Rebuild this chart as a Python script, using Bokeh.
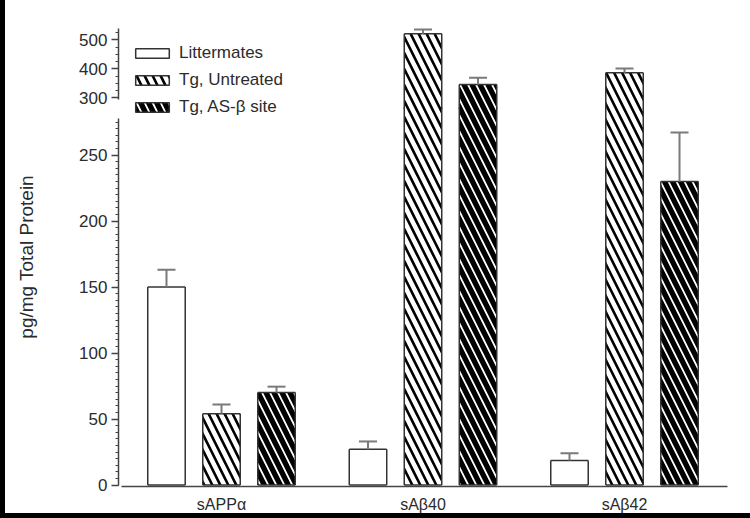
from bokeh.plotting import figure
from bokeh.layouts import column, row
from bokeh.models import (ColumnDataSource, CDSView, BooleanFilter, Legend, LegendItem,
                          SingleIntervalTicker, FixedTicker, Range1d, Div, LinearAxis)
from bokeh.transform import dodge
from bokeh.embed import file_html
from bokeh.resources import INLINE

# ---- data ----
groups = ["sAPPα", "sAβ40", "sAβ42"]
series = ["Littermates", "Tg, Untreated", "Tg, AS-β site"]
littermates = [150, 27, 18.5]
tg_untreated = [54, 521, 387]
tg_as_site = [70, 346, 230]
littermates_err = [13, 6, 5.5]
tg_untreated_err = [7, 14, 14]
tg_as_site_err = [4.5, 24, 37]
lower_tick_step = 50
upper_tick_step = 100
y_title = "pg/mg Total Protein"

# ---- layout constants (broken y axis) ----
FONT = "Liberation Sans"
TXT = "#2b2b2b"
AX = "#444444"
EDGE = "#333333"
ERR = "#7a7a7a"
LOWER_RANGE = (-21.59, 351.9)      # lower segment scale over the whole frame
UPPER_RANGE = (-1127.8, 566.3)     # upper segment scale over the whole frame
LOWER_AXIS_BOUNDS = (0, 277.6)
UPPER_AXIS_BOUNDS = (294.8, 538.8)
BREAK_LO = 286.0                   # where the lower segment of a bar stops
BREAK_HI = 262.0                   # where the upper segment of a bar starts
AXIS_X = -0.5112                   # x position of the y axes
AXIS_Y = -1.136                    # y position of the category axis
offsets = [-0.273, 0.0, 0.273]
BAR_W = 0.186

xr = Range1d(-0.8486, 2.526)

p = figure(width=705, height=513, x_range=xr, y_range=Range1d(*LOWER_RANGE),
           output_backend="svg", toolbar_location=None, y_axis_location=None,
           min_border_left=5, min_border_right=20,
           min_border_top=20, min_border_bottom=0)
p.extra_y_ranges = {"upper": Range1d(*UPPER_RANGE)}
p.outline_line_color = None
p.xgrid.visible = False
p.ygrid.visible = False
p.background_fill_color = "white"
p.border_fill_color = "white"

def make_yaxis(range_name, step, minor, bounds):
    ax = LinearAxis(y_range_name=range_name, fixed_location=AXIS_X)
    ax.ticker = SingleIntervalTicker(interval=step, num_minor_ticks=minor)
    ax.bounds = bounds
    ax.axis_line_color = AX
    ax.axis_line_width = 1.5
    ax.major_tick_line_color = AX
    ax.major_tick_line_width = 1.5
    ax.minor_tick_line_color = AX
    ax.minor_tick_line_width = 1.2
    ax.major_tick_out = 7
    ax.major_tick_in = 0
    ax.minor_tick_out = 3
    ax.minor_tick_in = 0
    ax.major_label_standoff = 4
    ax.major_label_text_font = FONT
    ax.major_label_text_font_size = "17px"
    ax.major_label_text_color = TXT
    p.add_layout(ax, "left")

make_yaxis("default", lower_tick_step, 10, LOWER_AXIS_BOUNDS)
make_yaxis("upper", upper_tick_step, 4, UPPER_AXIS_BOUNDS)

xa = p.xaxis[0]
xa.fixed_location = AXIS_Y
xa.ticker = FixedTicker(ticks=list(range(len(groups))))
xa.major_label_overrides = {i: g for i, g in enumerate(groups)}
xa.bounds = (-0.496, 2.511)
xa.axis_line_color = AX
xa.axis_line_width = 1.5
xa.major_tick_out = 0
xa.major_tick_in = 0
xa.minor_tick_out = 0
xa.minor_tick_in = 0
xa.major_label_standoff = 9
xa.major_label_text_font = FONT
xa.major_label_text_font_size = "16px"
xa.major_label_text_color = TXT

values = [littermates, tg_untreated, tg_as_site]
errors = [littermates_err, tg_untreated_err, tg_as_site_err]
styles = [
    dict(fill_color="white"),
    dict(fill_color="white", hatch_pattern="\\", hatch_color="black", hatch_weight=2.6, hatch_scale=16),
    dict(fill_color="black", hatch_pattern="\\", hatch_color="white", hatch_weight=1.8, hatch_scale=16),
]

legend_items = []
for s, vals, errs, off, st in zip(series, values, errors, offsets, styles):
    src = ColumnDataSource(dict(
        x=list(range(len(groups))),
        top=vals,
        top_lo=[min(v, BREAK_LO) for v in vals],
        upper=[v + e for v, e in zip(vals, errs)],
    ))
    tall = CDSView(filter=BooleanFilter([v > BREAK_LO for v in vals]))
    short = CDSView(filter=BooleanFilter([v <= BREAK_LO for v in vals]))
    xs = dodge("x", off)
    xl = dodge("x", off - BAR_W / 2)
    xrt = dodge("x", off + BAR_W / 2)
    line = dict(line_color=EDGE, line_width=1.5)
    errl = dict(line_color=ERR, line_width=2)

    # lower segment of every bar
    p.vbar(x=xs, top="top_lo", bottom=0, width=BAR_W, source=src, line_color=None, **st)
    p.segment(x0=xl, y0=0, x1=xl, y1="top_lo", source=src, **line)
    p.segment(x0=xrt, y0=0, x1=xrt, y1="top_lo", source=src, **line)
    p.segment(x0=xl, y0=0, x1=xrt, y1=0, source=src, **line)
    # short bars: top edge and error bar on the lower scale
    p.segment(x0=xl, y0="top", x1=xrt, y1="top", source=src, view=short, **line)
    p.segment(x0=xs, y0="top", x1=xs, y1="upper", source=src, view=short, **errl)
    p.scatter(x=xs, y="upper", marker="dash", size=18, source=src, view=short, **errl)
    # tall bars: upper segment on the upper scale
    p.vbar(x=xs, top="top", bottom=BREAK_HI, width=BAR_W, source=src, view=tall,
           y_range_name="upper", line_color=None, **st)
    p.segment(x0=xl, y0=BREAK_HI, x1=xl, y1="top", source=src, view=tall, y_range_name="upper", **line)
    p.segment(x0=xrt, y0=BREAK_HI, x1=xrt, y1="top", source=src, view=tall, y_range_name="upper", **line)
    p.segment(x0=xl, y0="top", x1=xrt, y1="top", source=src, view=tall, y_range_name="upper", **line)
    p.segment(x0=xs, y0="top", x1=xs, y1="upper", source=src, view=tall, y_range_name="upper", **errl)
    p.scatter(x=xs, y="upper", marker="dash", size=18, source=src, view=tall,
              y_range_name="upper", **errl)
    # legend proxy
    leg_r = p.vbar(x=xs, top="top", bottom=0, width=BAR_W, source=src,
                   visible=False, **line, **st)
    legend_items.append(LegendItem(label=s, renderers=[leg_r]))

legend = Legend(items=legend_items, location=(81, 396),
                glyph_width=42, glyph_height=12, label_height=20, spacing=7,
                padding=0, margin=0, border_line_color=None,
                background_fill_alpha=0, label_standoff=6,
                label_text_font=FONT, label_text_font_size="17px",
                label_text_color=TXT)
p.add_layout(legend)

ylab_html = (
    '<div style="position:absolute; left:-73px; top:246px; width:190px; height:22px; '
    'line-height:22px; text-align:center; transform:rotate(-90deg); '
    f'font-family:\'{FONT}\'; font-size:19px; color:{TXT}; white-space:nowrap;">'
    f'{y_title}</div>'
)
ylab_div = Div(text=ylab_html, width=40, height=513, margin=0,
               styles={"position": "relative", "overflow": "visible"})

left_bar = Div(width=5, height=513, margin=0, styles={"background-color": "black"})
bottom_bar = Div(width=750, height=5, margin=0, styles={"background-color": "black"})
layout = column(row(left_bar, ylab_div, p, spacing=0), bottom_bar, spacing=0)
open("out.html", "w").write(file_html(layout, INLINE))
